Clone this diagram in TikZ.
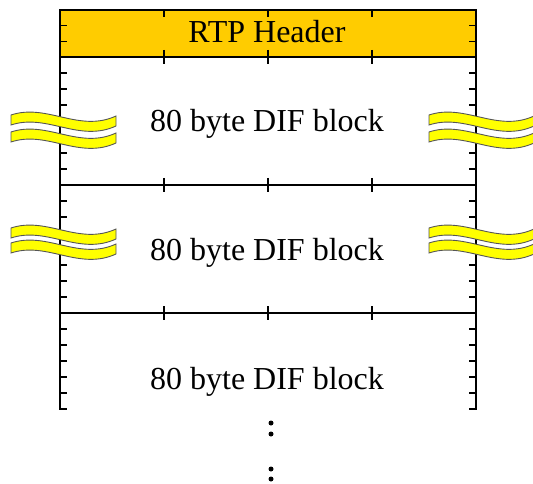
\documentclass[tikz,border=0pt]{standalone}
\usepackage{fontspec}
\setmainfont{Liberation Serif}
\definecolor{hdr}{HTML}{FFCC00}
\definecolor{bandfill}{HTML}{FFFF00}
\definecolor{bandline}{HTML}{555555}
\begin{document}
\begin{tikzpicture}[x=1pt,y=-1pt,
  hline/.style={line width=1.8pt,black},
  vline/.style={line width=1.2pt,black},
  tickmark/.style={line width=1.2pt,black},
  lbl/.style={font=\fontsize{32}{38}\selectfont,anchor=base,inner sep=0pt},
  bandshape/.style={fill=bandfill,draw=bandline,line width=0.9pt},
  dotmark/.style={circle,fill=black,inner sep=0pt,minimum size=5pt},
  wave/.pic={\path[bandshape] (0,0) .. controls (36,-12) and (68,18) .. (105,1) -- (105,11) .. controls (68,28) and (36,-2) .. (0,10) -- cycle;}
]
\useasboundingbox (0,0) rectangle (533,484);
\fill[hdr] (60,10) rectangle (476,57);
% side ticks
\foreach \y in {25.7,41.3,73,89,105,121,137,153,169,201,217,233,249,265,281,297,329,345,361,377,393,409} {
  \draw[tickmark] (60,\y) -- (67,\y);
  \draw[tickmark] (476,\y) -- (469,\y);
}
% horizontal lines
\foreach \y in {10,57,185,313} \draw[hline] (59.4,\y) -- (476.6,\y);
% vertical ticks
\foreach \x in {164,268,372} {
  \draw[tickmark] (\x,10) -- (\x,17);
  \foreach \y in {57,185,313} \draw[tickmark] (\x,\y-7) -- (\x,\y+7);
}
\draw[vline] (60,10) -- (60,409.6);
\draw[vline] (476,10) -- (476,409.6);
% texts
\node[lbl] (hdrtext) at (267,43) {RTP Header};
\node[lbl] (dif1) at (267,132) {80 byte DIF block};
\node[lbl] (dif2) at (267,260) {80 byte DIF block};
\node[lbl] (dif3) at (267,389) {80 byte DIF block};
% break symbols
\pic at (11,115) {wave}; \pic at (11,132) {wave};
\pic at (429,115) {wave}; \pic at (429,132) {wave};
\pic at (11,228) {wave}; \pic at (11,243) {wave};
\pic at (429,228) {wave}; \pic at (429,243) {wave};
% continuation dots
\node[dotmark] (d1) at (271,423) {};
\node[dotmark] (d2) at (271,434) {};
\node[dotmark] (d3) at (271,469) {};
\node[dotmark] (d4) at (271,479) {};
\end{tikzpicture}
\end{document}
